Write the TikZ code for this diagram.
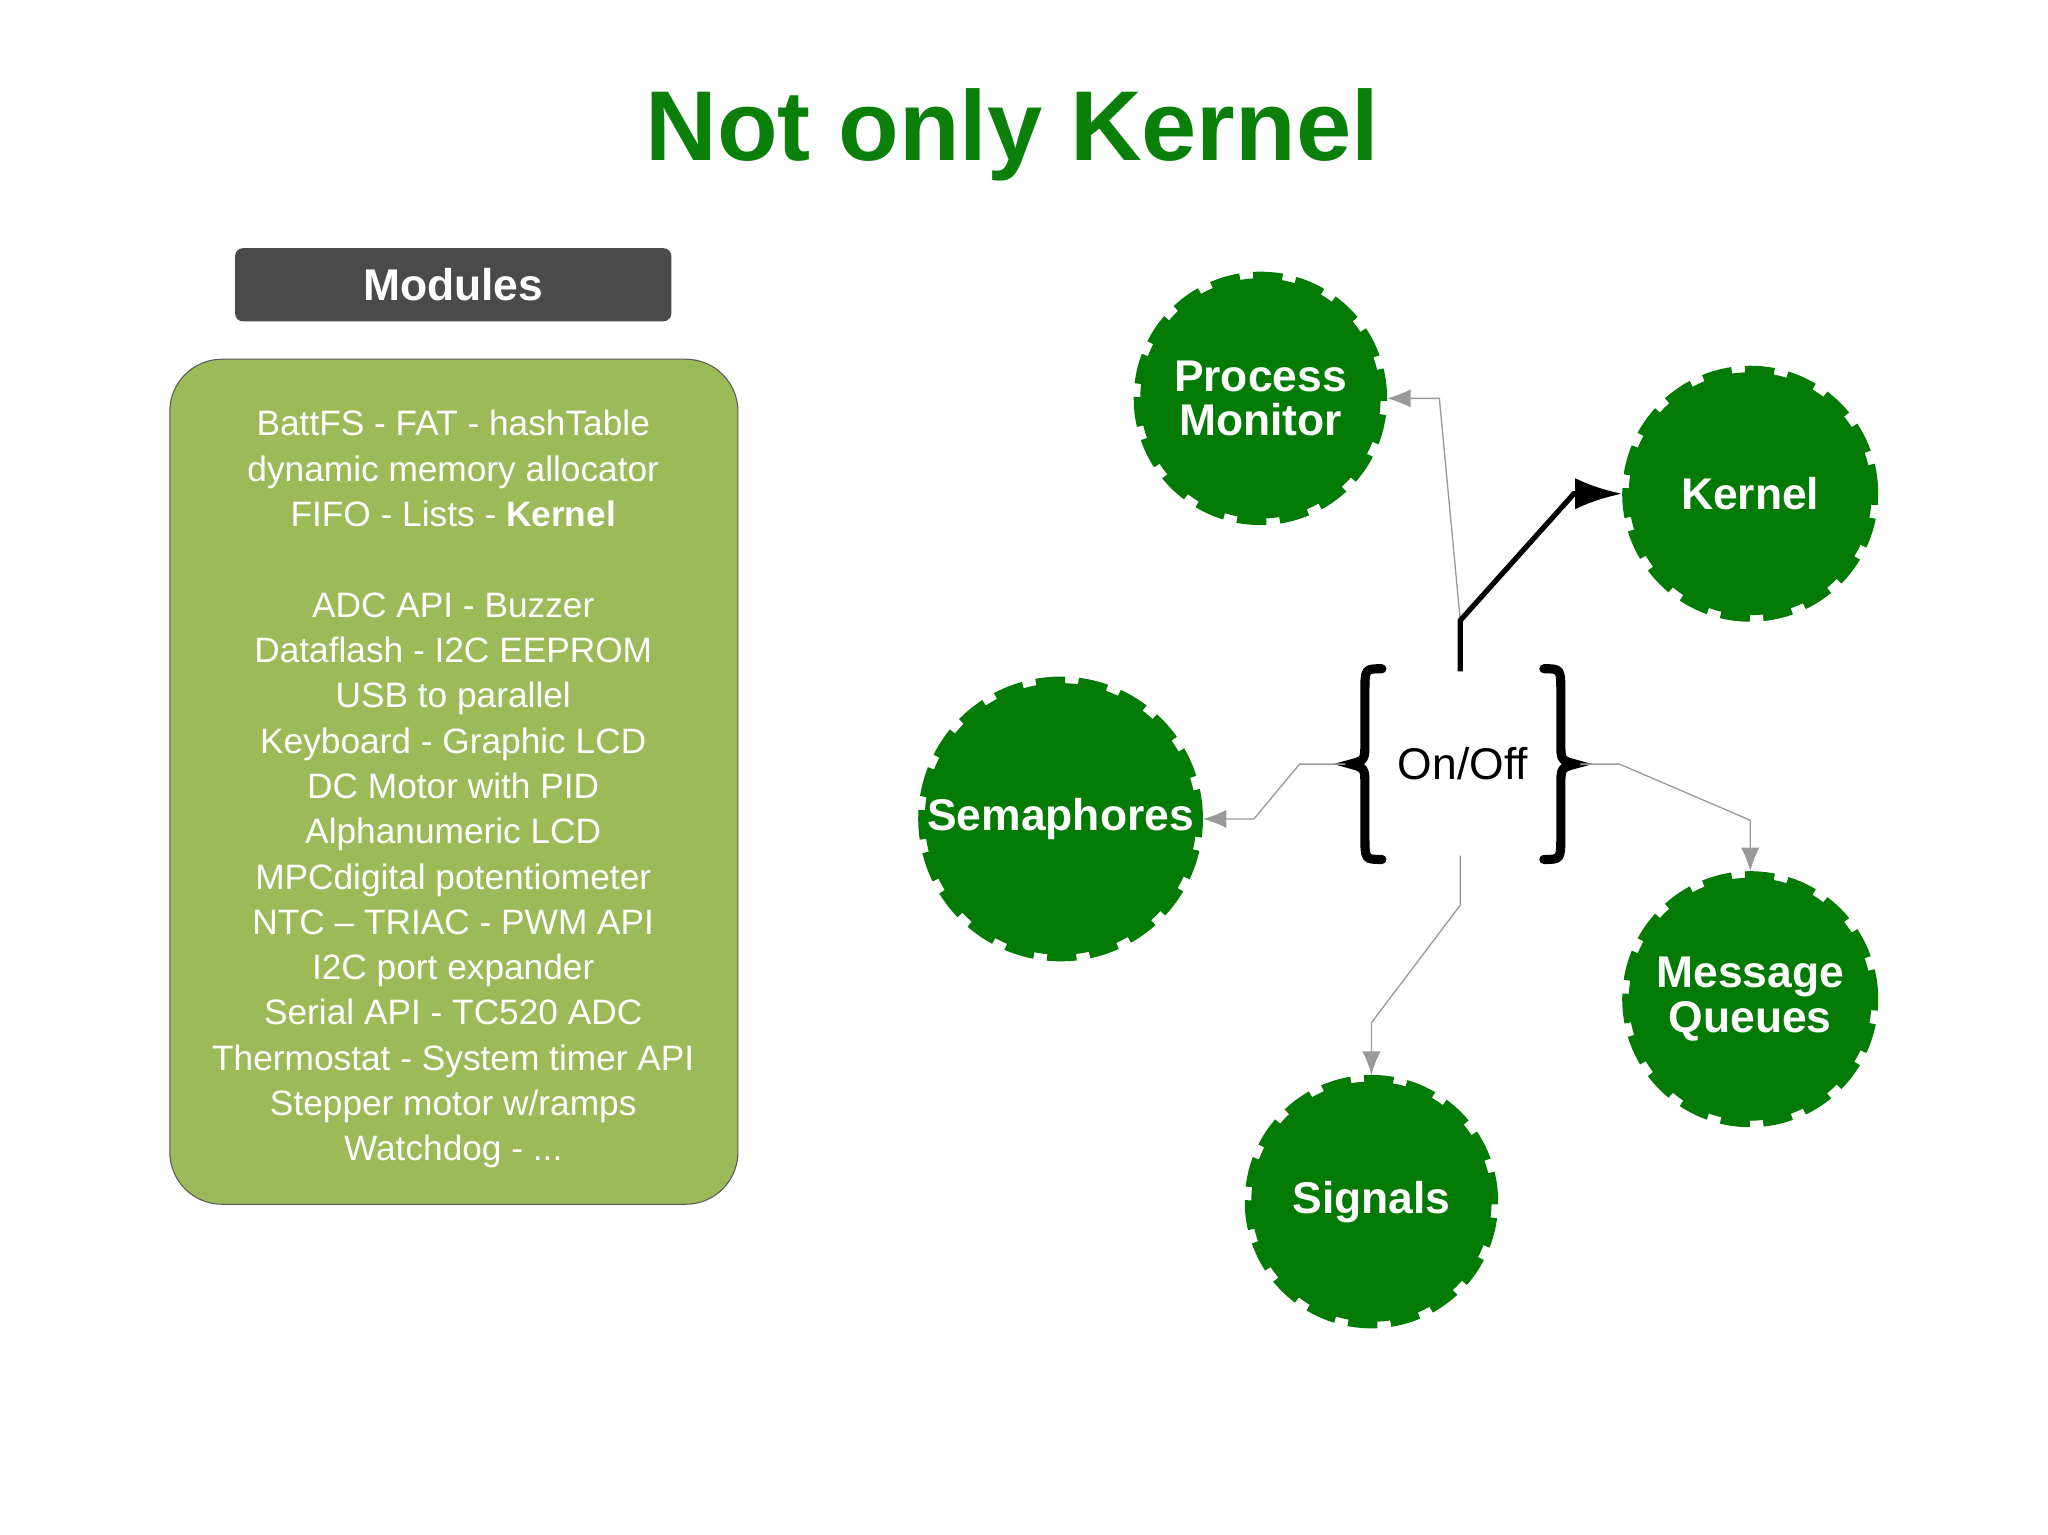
\documentclass[tikz,border=0pt]{standalone}
\usepackage{fontspec}
\setmainfont{Liberation Sans}
\usetikzlibrary{arrows.meta}
\definecolor{dg}{HTML}{037A03}
\definecolor{tg}{HTML}{0A800A}
\definecolor{lg}{HTML}{9BBB59}
\definecolor{hd}{HTML}{4A4A4A}
\tikzset{
  circ/.style={circle, fill=dg, draw=dg, line width=5pt, dash pattern=on 11pt off 5pt, minimum size=#1, text=white, font=\bfseries\fontsize{17}{20}\selectfont, align=center, inner sep=0pt},
  thin/.style={draw=gray!80, line width=0.5pt, -{Latex[length=9pt,width=7pt]}},
  brc/.style={line width=3.5pt, line cap=round}
}
\begin{document}
\begin{tikzpicture}[x=0.5pt,y=-0.5pt]
\useasboundingbox[fill=white] (0,0) rectangle (1568,1175);
\node[text=tg, font=\bfseries\fontsize{38}{40}\selectfont] (title) at (775,103) {Not only Kernel};
\node[fill=hd, rounded corners=3pt, minimum width=167pt, minimum height=28pt, text=white, font=\bfseries\fontsize{17}{20}\selectfont] (mod) at (347,218) {Modules};
\node[fill=lg, draw=gray!70!black, line width=0.4pt, rounded corners=20pt, minimum width=217.5pt, minimum height=323.5pt] (box) at (347.5,598.5) {};
\node[text=white, align=center, font=\fontsize{13.5}{17.35}\selectfont, anchor=north] (txt) at (347,307) {BattFS - FAT - hashTable\\dynamic memory allocator\\FIFO - Lists - \textbf{Kernel}\\[17.35pt]ADC API - Buzzer\\Dataflash - I2C EEPROM\\USB to parallel\\Keyboard - Graphic LCD\\DC Motor with PID\\Alphanumeric LCD\\MPCdigital potentiometer\\NTC – TRIAC - PWM API\\I2C port expander\\Serial API - TC520 ADC\\Thermostat - System timer API\\Stepper motor w/ramps\\Watchdog - ...};
\node[circ=92pt] (pm) at (965,305) {Process\\[-3pt]Monitor};
\node[circ=93pt] (k) at (1340,378) {Kernel};
\node[circ=104pt] (s) at (812,627) {Semaphores};
\node[circ=93pt] (mq) at (1340,765) {Message\\[-3pt]Queues};
\node[circ=92pt] (sg) at (1050,920) {Signals};
\node[font=\fontsize{17}{20}\selectfont] (oo) at (1120,585) {On/Off};
\draw[brc] (1058,512) .. controls (1045,512) .. (1045,530) -- (1045,568) .. controls (1045,582) .. (1034,585) .. controls (1045,588) .. (1045,602) -- (1045,640) .. controls (1045,658) .. (1058,658);
\draw[brc] (1182,512) .. controls (1195,512) .. (1195,530) -- (1195,568) .. controls (1195,582) .. (1206,585) .. controls (1195,588) .. (1195,602) -- (1195,640) .. controls (1195,658) .. (1182,658);
\coordinate (t1) at (1118,475);
\coordinate (t0) at (1118,514);
\coordinate (lb) at (1030,585);
\coordinate (rb) at (1210,585);
\coordinate (bt) at (1118,655);
\draw[thin] (t1) -- (1102,305) -- (pm.east);
\draw[line width=2pt, -{Latex[length=18pt,width=12pt]}] (t0) -- (t1) -- (1205,378) -- (k.west);
\draw[thin] (lb) -- (995,585) -- (960,627) -- (s.east);
\draw[thin] (rb) -- (1240,585) -- (1340,628) -- (mq.north);
\draw[thin] (bt) -- (1118,693) -- (1050,783) -- (sg.north);
\end{tikzpicture}
\end{document}
